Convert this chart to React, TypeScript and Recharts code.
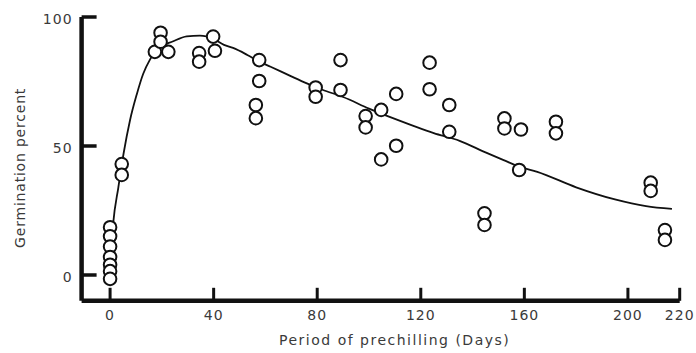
import { ComposedChart, Line, Scatter, XAxis, YAxis } from 'recharts';

const obsDays = [
  0, 0, 0, 0, 0, 0, 0,
  4.5, 4.5,
  17.3, 19.5, 19.5, 22.5,
  34.4, 34.4, 39.8, 40.5,
  57.6, 57.6, 56.3, 56.3,
  79.4, 79.4,
  89, 89,
  98.7, 98.7,
  104.7, 104.7,
  110.5, 110.5,
  123.4, 123.4,
  131, 131,
  144.6, 144.6,
  152.3, 152.3,
  158.7, 158,
  172.2, 172.2,
  208.8, 208.8,
  214.3, 214.3,
];
const obsPct = [
  18.5, 15, 11, 7, 4, 1.5, -1.5,
  43, 38.8,
  86.5, 93.9, 90.4, 86.5,
  86, 82.7, 92.4, 86.9,
  83.3, 75.2, 65.9, 60.8,
  72.7, 69.1,
  83.3, 71.7,
  61.6, 57.2,
  64, 44.8,
  70.2, 50.1,
  82.3, 72,
  65.9, 55.5,
  23.9, 19.4,
  60.7, 56.8,
  56.4, 40.7,
  59.4, 54.9,
  35.8, 32.6,
  17.4, 13.6,
];

// fitted curve
const curveDays = [0, 1.2, 3.2, 5.2, 7.7, 10.3, 12.8, 15.4, 18, 24.4, 29.6, 34.7, 40, 44, 47.5, 53, 58, 62, 70, 76, 82, 90, 100, 110, 125, 135, 145, 152, 158, 165, 180, 195, 207, 217];
const curvePct = [3, 20, 34, 47, 60, 70, 78, 83.5, 87.3, 90.6, 92.5, 92.8, 91.5, 89.2, 88, 85.3, 82.5, 80.7, 77, 74.3, 71.8, 69, 64.5, 60.5, 55, 52, 47.5, 44.5, 42, 40, 34, 29.3, 26.7, 25.6];

const xTicks = [0, 40, 80, 120, 160, 200, 220];
const yTicks = [0, 50, 100];

const observed = obsDays.map((d, i) => ({ day: d, pct: obsPct[i] }));
const curve = curveDays.map((d, i) => ({ day: d, pct: curvePct[i] }));

const INK = '#111';
const TEXT = '#3a3a3a';
const FONT = '"DejaVu Sans", sans-serif';

function XTick(props: any) {
  const { x, y, payload } = props;
  return (
    <g>
      <line x1={x} y1={y} x2={x} y2={y - 13} stroke={INK} strokeWidth={3} />
      <text x={x} y={y + 19} textAnchor="middle" fill={TEXT} fontFamily={FONT} fontSize={14} letterSpacing={1}>
        {payload.value}
      </text>
    </g>
  );
}

function YTick(props: any) {
  const { x, y, payload } = props;
  return (
    <g>
      <line x1={x} y1={y} x2={x + 15} y2={y} stroke={INK} strokeWidth={3.5} />
      <text x={x - 9} y={y + 7} textAnchor="end" fill={TEXT} fontFamily={FONT} fontSize={14} letterSpacing={1}>
        {payload.value}
      </text>
    </g>
  );
}

function Ring(props: any) {
  const { cx, cy } = props;
  return <circle cx={cx} cy={cy} r={6.3} fill="#fff" stroke={INK} strokeWidth={2} />;
}

function XTitle(props: any) {
  const vb = props.viewBox;
  return (
    <text x={vb.x + vb.width / 2 + 14} y={vb.y + 44} textAnchor="middle" fill={TEXT} fontFamily={FONT} fontSize={14} letterSpacing={1.5}>
      Period of prechilling (Days)
    </text>
  );
}

function YTitle(props: any) {
  const vb = props.viewBox;
  const cx = vb.x - 22;
  const cy = vb.y + vb.height / 2 + 9;
  return (
    <text x={cx} y={cy} transform={`rotate(-90, ${cx}, ${cy})`} textAnchor="middle" dominantBaseline="central" fill={TEXT} fontFamily={FONT} fontSize={14} letterSpacing={0.8}>
      Germination percent
    </text>
  );
}

export default function App() {
  return (
    <div style={{ position: 'absolute', left: 0, top: 0, width: 696, height: 353, background: '#fff' }}>
      <ComposedChart width={696} height={353} margin={{ top: 17, right: 16.3, bottom: 22.2, left: 41.6 }}>
        <XAxis
          dataKey="day"
          type="number"
          domain={[-11, 220]}
          ticks={xTicks}
          allowDataOverflow
          height={30}
          tickSize={0}
          tickMargin={0}
          tickLine={false}
          tick={<XTick />}
          axisLine={{ stroke: INK, strokeWidth: 4.5 }}
          label={XTitle}
        />
        <YAxis
          dataKey="pct"
          type="number"
          domain={[-10, 100]}
          ticks={yTicks}
          allowDataOverflow
          width={40}
          tickSize={0}
          tickMargin={0}
          tickLine={false}
          tick={<YTick />}
          axisLine={{ stroke: INK, strokeWidth: 4.5 }}
          label={YTitle}
        />
        <Line data={curve} dataKey="pct" type="monotone" stroke={INK} strokeWidth={1.8} dot={false} activeDot={false} isAnimationActive={false} />
        <Scatter data={observed} dataKey="pct" shape={<Ring />} isAnimationActive={false} />
      </ComposedChart>
    </div>
  );
}
